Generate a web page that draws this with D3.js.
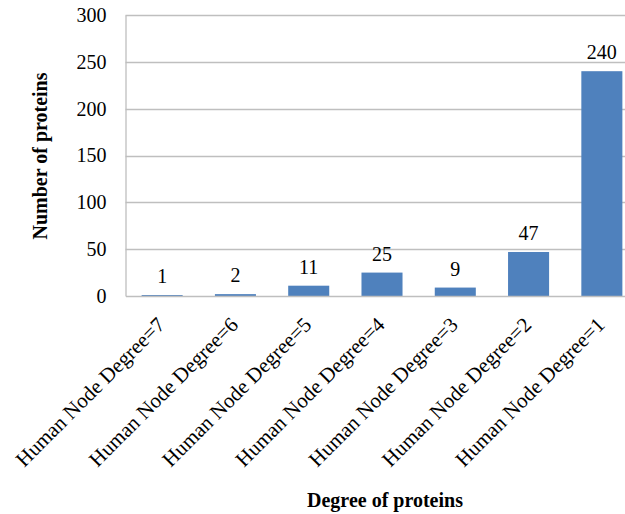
<html>
  <head>
    <style>
      body { margin: 0; background: #fff; }
      svg { display: block; }
      text { font-family: "Liberation Serif", "Times New Roman", serif; fill: #000; }
    </style>
  </head>
  <body>
    <div id="vis"></div>
    <script src="https://d3js.org/d3.v7.min.js"></script>
    <script>
      const categories = ['Human Node Degree=7', 'Human Node Degree=6', 'Human Node Degree=5',
                          'Human Node Degree=4', 'Human Node Degree=3', 'Human Node Degree=2',
                          'Human Node Degree=1']
      const values = [1, 2, 11, 25, 9, 47, 240]
      const yTicks = [0, 50, 100, 150, 200, 250, 300]

      const width = 625, height = 514
      const plotLeft = 125.5, plotRight = 638.5, plotTop = 15, plotBottom = 296
      const serif = '"Liberation Serif", "Times New Roman", serif'

      const svg = d3.select('#vis').append('svg').attr('width', width).attr('height', height)

      const x = d3.scaleBand().domain(categories).range([plotLeft, plotRight]).paddingInner(0.44).paddingOuter(0.22)
      const y = d3.scaleLinear().domain([0, 300]).range([plotBottom, plotTop])

      // grid lines
      svg.append('g')
        .selectAll('line')
        .data(yTicks.slice(1))
        .join('line')
        .attr('x1', plotLeft).attr('x2', plotRight)
        .attr('y1', d => Math.round(y(d)) + 0.5).attr('y2', d => Math.round(y(d)) + 0.5)
        .attr('stroke', '#bfbfbf').attr('stroke-width', 1.3)

      // y axis
      const yAxis = svg.append('g')
        .attr('transform', 'translate(' + plotLeft + ',0)')
        .call(d3.axisLeft(y).tickValues(yTicks).tickSize(0).tickPadding(19))
      yAxis.attr('font-family', serif)
      yAxis.select('.domain').attr('stroke', '#bfbfbf').attr('stroke-width', 1.3)
      yAxis.selectAll('text').attr('font-size', 20).style('font-family', serif)

      // bars
      svg.append('g')
        .selectAll('rect')
        .data(values)
        .join('rect')
        .attr('x', (d, i) => x(categories[i]))
        .attr('width', x.bandwidth())
        .attr('y', d => y(d))
        .attr('height', d => plotBottom - y(d))
        .attr('fill', '#4f81bd')

      // value labels
      svg.append('g')
        .selectAll('text')
        .data(values)
        .join('text')
        .attr('x', (d, i) => x(categories[i]) + x.bandwidth() / 2)
        .attr('y', d => y(d) - 12)
        .attr('text-anchor', 'middle')
        .attr('font-size', 20)
        .style('font-family', serif)
        .text(d => d)

      // x axis
      const xAxis = svg.append('g')
        .attr('transform', 'translate(0,' + plotBottom + ')')
        .call(d3.axisBottom(x).tickSize(0).tickPadding(0))
      xAxis.attr('font-family', serif)
      xAxis.select('.domain').attr('stroke', '#bfbfbf').attr('stroke-width', 1.3)
      xAxis.selectAll('text')
        .attr('font-size', 21)
        .style('font-family', serif)
        .attr('text-anchor', 'end')
        .attr('dy', 0)
        .attr('y', 0)
        .attr('transform', 'translate(4,30) rotate(-45)')

      // axis titles
      svg.append('text')
        .attr('transform', 'translate(47,156) rotate(-90)')
        .attr('text-anchor', 'middle')
        .attr('font-size', 20)
        .attr('font-weight', 'bold')
        .style('font-family', serif)
        .text('Number of proteins')

      svg.append('text')
        .attr('x', 385).attr('y', 507)
        .attr('text-anchor', 'middle')
        .attr('font-size', 20)
        .attr('font-weight', 'bold')
        .style('font-family', serif)
        .text('Degree of proteins')
    </script>
  </body>
</html>
